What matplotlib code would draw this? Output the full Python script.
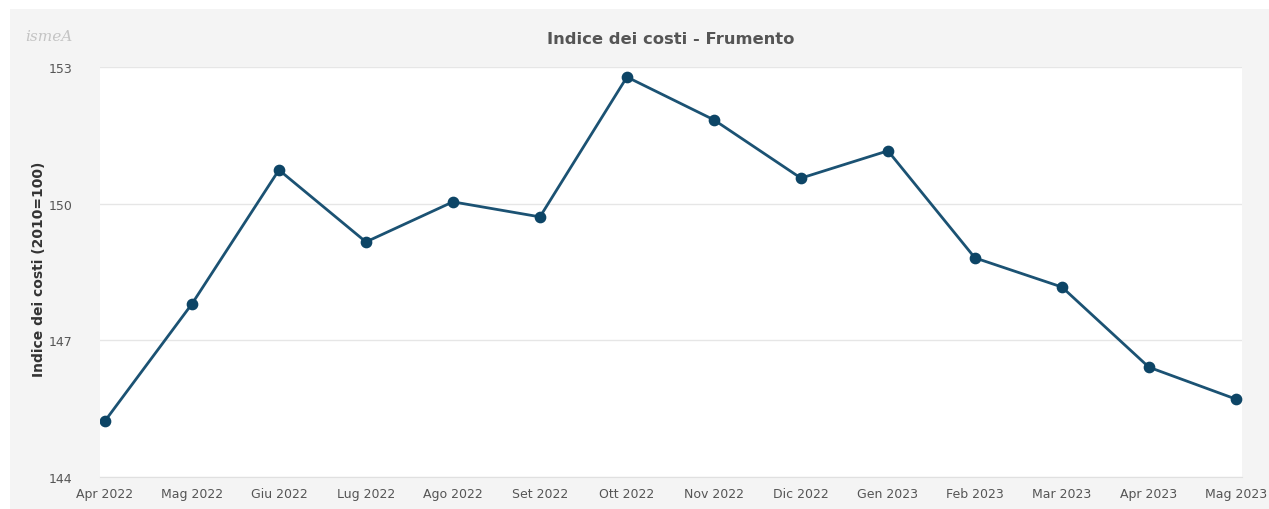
import matplotlib
matplotlib.use("Agg")
from matplotlib import pyplot as plt

# data
months = ["Apr 2022", "Mag 2022", "Giu 2022", "Lug 2022", "Ago 2022", "Set 2022",
          "Ott 2022", "Nov 2022", "Dic 2022", "Gen 2023", "Feb 2023", "Mar 2023",
          "Apr 2023", "Mag 2023"]
index_values = [145.23, 147.80, 150.74, 149.16, 150.04, 149.71, 152.78,
                151.84, 150.56, 151.16, 148.81, 148.17, 146.41, 145.71]
y_ticks = [144, 147, 150, 153]

text_col = "#555555"
line_col = "#1b5273"

fig = plt.figure(figsize=(12.69, 5.10), dpi=100, facecolor="white")

# gray panel behind everything
bg = fig.add_axes([10 / 1269, 0, 1 - 10 / 1269, 1 - 10 / 510], zorder=-10)
bg.set_facecolor("#f4f4f4")
bg.set_xticks([])
bg.set_yticks([])
for s in bg.spines.values():
    s.set_visible(False)

ax = fig.add_axes([100 / 1269, 32 / 510, 1142 / 1269, 410 / 510])
ax.set_facecolor("white")

x = list(range(len(months)))
ax.plot(x, index_values, color=line_col, linewidth=2, zorder=3)
ax.scatter(x, index_values, s=55, color="#0d4566", zorder=4)

ax.set_xlim(-0.057, len(months) - 1 + 0.07)
ax.set_ylim(144, 153)
ax.set_xticks(x)
ax.set_xticklabels(months)
ax.set_yticks(y_ticks)

ax.grid(axis="y", color="#e6e6e6", linewidth=1)
ax.set_axisbelow(True)
for side in ["top", "right", "left"]:
    ax.spines[side].set_visible(False)
ax.spines["bottom"].set_color("#e0e0e0")

ax.tick_params(axis="x", length=0, pad=7, labelsize=9, labelcolor=text_col)
ax.tick_params(axis="y", length=0, pad=20, labelsize=9, labelcolor=text_col)

ax.set_ylabel("Indice dei costi (2010=100)", fontsize=10, fontweight="bold",
              color="#333333")
ax.yaxis.set_label_coords(-54 / 1142, 0.51)

fig.text(671 / 1269, 1 - 40 / 510, "Indice dei costi - Frumento", ha="center",
         va="center", fontsize=11.8, fontweight="bold", color=text_col)

# logo placeholder
fig.text(49 / 1269, 1 - 37 / 510, "ismeA", ha="center", va="center",
         fontsize=11, family="DejaVu Serif", style="italic", color="#c4c4c4")

fig.savefig("out.png", dpi=100, facecolor=fig.get_facecolor())
